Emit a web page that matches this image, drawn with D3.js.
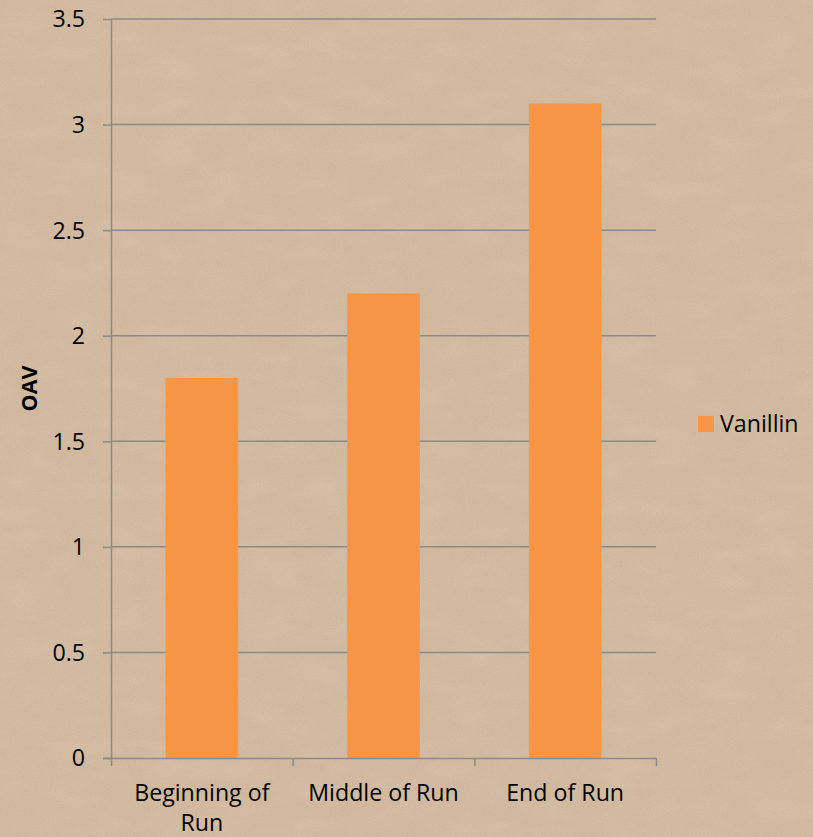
<!DOCTYPE html>
<html>
<head>
<meta charset="utf-8">
<script src="https://cdn.jsdelivr.net/npm/d3@7"></script>
<style>
  html, body { margin: 0; padding: 0; background: #D4BDA4; }
  svg { display: block; }
  text { font-family: "Open Sans", Lato, sans-serif; fill: #000; }
</style>
</head>
<body>
<svg id="chart" width="813" height="837"></svg>
<script>
// Chart data
const categories = ["Beginning of Run", "Middle of Run", "End of Run"];
const categoryLines = [["Beginning of", "Run"], ["Middle of Run"], ["End of Run"]];
const seriesName = "Vanillin";
const vanillin = [1.8, 2.2, 3.1];
const yTicks = [0, 0.5, 1, 1.5, 2, 2.5, 3, 3.5];
const yTickLabels = ["0", "0.5", "1", "1.5", "2", "2.5", "3", "3.5"];
const yAxisTitle = "OAV";

const W = 813, H = 837;
const plot = { left: 111, right: 656, top: 19, bottom: 758 };
const barColor = "#F79646";
const gridColor = "#8A8A8A";
const fontFamily = "'Open Sans', Lato, sans-serif";
const fontSize = 23.2;

const svg = d3.select("#chart");

// Paper background with a light grain
const defs = svg.append("defs");
const fine = defs.append("filter").attr("id", "grain")
  .attr("x", 0).attr("y", 0).attr("width", "100%").attr("height", "100%");
fine.append("feTurbulence").attr("type", "fractalNoise")
  .attr("baseFrequency", "0.85").attr("numOctaves", 2).attr("seed", 4).attr("result", "n");
fine.append("feColorMatrix").attr("in", "n").attr("type", "matrix")
  .attr("values", "0 0 0 0 0.42  0 0 0 0 0.33  0 0 0 0 0.24  1.4 0 0 0 -0.45");

const coarse = defs.append("filter").attr("id", "mottle")
  .attr("x", 0).attr("y", 0).attr("width", "100%").attr("height", "100%");
coarse.append("feTurbulence").attr("type", "fractalNoise")
  .attr("baseFrequency", "0.02 0.05").attr("numOctaves", 3).attr("seed", 9).attr("result", "n");
coarse.append("feColorMatrix").attr("in", "n").attr("type", "matrix")
  .attr("values", "0 0 0 0 0.95  0 0 0 0 0.88  0 0 0 0 0.80  1.2 0 0 0 -0.45");

svg.append("rect").attr("width", W).attr("height", H).attr("fill", "#D3BBA1");
svg.append("rect").attr("width", W).attr("height", H).attr("filter", "url(#mottle)").attr("opacity", 0.14);
svg.append("rect").attr("width", W).attr("height", H).attr("filter", "url(#grain)").attr("opacity", 0.25);

// Scales
const x = d3.scaleBand()
  .domain(categories)
  .range([plot.left, plot.right])
  .paddingInner(0.6)
  .paddingOuter(0.3);

const y = d3.scaleLinear()
  .domain([0, 3.5])
  .range([plot.bottom, plot.top]);

// Horizontal gridlines
svg.append("g")
  .selectAll("line")
  .data(yTicks.filter(d => d > 0))
  .join("line")
  .attr("x1", plot.left).attr("x2", plot.right)
  .attr("y1", d => y(d)).attr("y2", d => y(d))
  .attr("stroke", gridColor).attr("stroke-width", 1.5);

// Bars
svg.append("g")
  .selectAll("rect")
  .data(vanillin)
  .join("rect")
  .attr("x", (d, i) => x(categories[i]))
  .attr("width", x.bandwidth())
  .attr("y", d => y(d))
  .attr("height", d => y(0) - y(d))
  .attr("fill", barColor);

// Y axis
const yAxis = svg.append("g")
  .attr("transform", `translate(${plot.left},0)`)
  .call(d3.axisLeft(y)
    .tickValues(yTicks)
    .tickFormat((d, i) => yTickLabels[i])
    .tickSizeInner(8)
    .tickSizeOuter(0)
    .tickPadding(18));
yAxis.select(".domain").attr("stroke", gridColor).attr("stroke-width", 1.5);
yAxis.selectAll(".tick line").attr("stroke", gridColor).attr("stroke-width", 1.5);
yAxis.selectAll(".tick text")
  .attr("font-family", fontFamily)
  .attr("font-size", fontSize)
  .attr("fill", "#000")
  .attr("dy", "0.34em");

// X axis: tick marks sit on the category boundaries
const xEdges = d3.scaleLinear().domain([0, categories.length]).range([plot.left, plot.right]);
const xAxis = svg.append("g")
  .attr("transform", `translate(0,${plot.bottom})`)
  .call(d3.axisBottom(xEdges)
    .tickValues(d3.range(categories.length + 1))
    .tickFormat("")
    .tickSizeInner(8)
    .tickSizeOuter(0));
xAxis.select(".domain").attr("stroke", gridColor).attr("stroke-width", 1.5)
  .attr("d", `M${plot.left - 8},0.5H${plot.right}`);
xAxis.selectAll(".tick line").attr("stroke", gridColor).attr("stroke-width", 1.5);

// Category labels (wrapped onto two lines where needed)
const catLabels = svg.append("g")
  .attr("font-family", fontFamily)
  .attr("font-size", fontSize)
  .attr("text-anchor", "middle");
categories.forEach((c, i) => {
  const t = catLabels.append("text")
    .attr("x", x(c) + x.bandwidth() / 2)
    .attr("y", 800.5);
  categoryLines[i].forEach((line, j) => {
    t.append("tspan")
      .attr("x", x(c) + x.bandwidth() / 2)
      .attr("dy", j === 0 ? 0 : 30.5)
      .text(line);
  });
});

// Y axis title
svg.append("text")
  .attr("transform", `translate(37,${(plot.top + plot.bottom) / 2}) rotate(-90)`)
  .attr("text-anchor", "middle")
  .attr("font-family", fontFamily)
  .attr("font-size", 21.5)
  .attr("font-weight", "bold")
  .text(yAxisTitle);

// Legend
const legend = svg.append("g").attr("transform", "translate(698,416)");
legend.append("rect").attr("width", 16).attr("height", 16).attr("fill", barColor);
legend.append("text").attr("x", 22).attr("y", 15.5)
  .attr("font-family", fontFamily).attr("font-size", fontSize).text(seriesName);
</script>
</body>
</html>
